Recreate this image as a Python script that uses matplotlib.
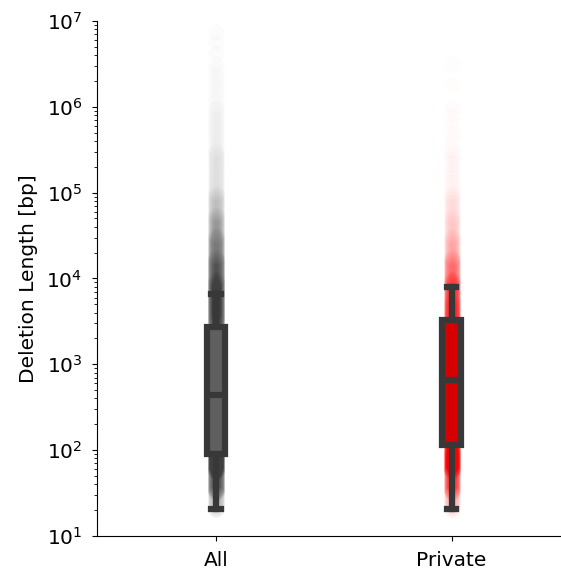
import numpy as np
import matplotlib
matplotlib.use("Agg")
import matplotlib.pyplot as plt

# categories and box summary (bp)
groups = ["All", "Private"]
whisker_lo = [20.5, 20.5]
q1 = [90, 116]
median = [440, 655]
q3 = [2700, 3300]
whisker_hi = [6650, 8000]

# strip density: log10 bin edges and estimated number of points per bin
bin_edges = [1.3, 1.5, 1.75, 2.0, 2.25, 2.5, 2.75, 3.0, 3.25, 3.5, 3.75,
             4.0, 4.25, 4.5, 4.75, 5.0, 5.5, 6.0, 6.5, 7.0]
counts_all = [35, 160, 320, 200, 160, 160, 160, 160, 160, 200, 200,
              150, 100, 65, 38, 32, 16, 8, 4]
counts_private = [30, 130, 300, 250, 160, 160, 160, 160, 160, 170, 140,
                  80, 40, 25, 16, 12, 5, 2, 1]

face_colors = ["#5f5f5f", "#d60000"]
strip_colors = ["#404040", "#ff0000"]
edge_color = "#383838"


def strip_values(edges, counts):
    vals = []
    for lo, hi, n in zip(edges[:-1], edges[1:], counts):
        vals.append(np.logspace(lo, hi, n, endpoint=False))
    return np.concatenate(vals)


fig = plt.figure(figsize=(5.61, 5.71), dpi=100)
ax = fig.add_axes([0.173, 0.0613, 0.825, 0.902])

for i, counts in enumerate([counts_all, counts_private]):
    vals = strip_values(bin_edges, counts)
    ax.scatter(np.full(len(vals), i), vals, s=135, color=strip_colors[i],
               alpha=0.012, linewidths=0, zorder=1)

stats = []
for i in range(len(groups)):
    stats.append(dict(med=median[i], q1=q1[i], q3=q3[i],
                      whislo=whisker_lo[i], whishi=whisker_hi[i], fliers=[]))

bp = ax.bxp(stats, positions=[0, 1], widths=0.08, patch_artist=True,
            showfliers=False, manage_ticks=False,
            boxprops=dict(linewidth=4.5, edgecolor=edge_color),
            whiskerprops=dict(linewidth=4.5, color=edge_color),
            capprops=dict(linewidth=4.5, color=edge_color),
            medianprops=dict(linewidth=4.5, color=edge_color),
            capwidths=0.04)
for patch, c in zip(bp["boxes"], face_colors):
    patch.set_facecolor(c)
    patch.set_zorder(3)
for med in bp["medians"]:
    med.set_zorder(4)

ax.set_yscale("log")
ax.set_ylim(10, 1e7)
ax.set_xlim(-0.505, 1.46)
ax.set_xticks([0, 1])
ax.set_xticklabels(groups)
ax.set_ylabel("Deletion Length [bp]", fontsize=14.5, labelpad=6)
ax.tick_params(axis="both", which="major", labelsize=14.5, pad=7)
ax.spines["top"].set_visible(False)
ax.spines["right"].set_visible(False)

fig.savefig("out.png", dpi=100)
